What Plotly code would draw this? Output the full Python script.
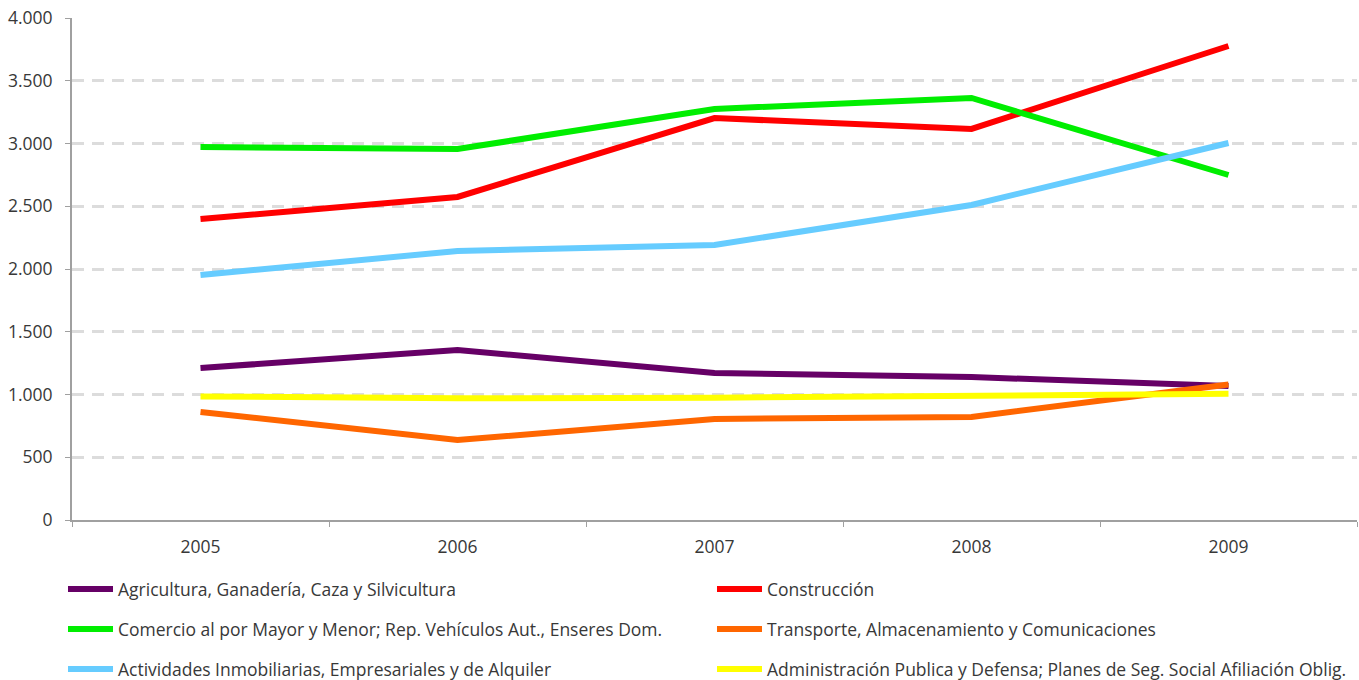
import plotly.graph_objects as go

years = ["2005", "2006", "2007", "2008", "2009"]

agricultura = [1211, 1355, 1171, 1139, 1068]
construccion = [2398, 2574, 3203, 3116, 3777]
comercio = [2972, 2956, 3275, 3363, 2749]
transporte = [861, 637, 805, 821, 1080]
actividades = [1952, 2143, 2191, 2510, 3004]
administracion = [985, 970, 975, 985, 1005]

series = [
    ("Agricultura, Ganadería, Caza y Silvicultura", agricultura, "#660066", "legend"),
    ("Construcción", construccion, "#ff0000", "legend"),
    ("Comercio al por Mayor y Menor; Rep. Vehículos Aut., Enseres Dom.", comercio, "#00ee00", "legend2"),
    ("Transporte, Almacenamiento y Comunicaciones", transporte, "#ff6600", "legend2"),
    ("Actividades Inmobiliarias, Empresariales y de Alquiler", actividades, "#66ccff", "legend3"),
    ("Administración Publica y Defensa; Planes de Seg. Social Afiliación Oblig.", administracion, "#ffff00", "legend3"),
]

fig = go.Figure()
for name, vals, color, lg in series:
    fig.add_trace(go.Scatter(
        x=years, y=vals, name=name, mode="lines",
        line=dict(color=color, width=6),
        legend=lg,
    ))

W, H = 1359, 680
ml, mr, mt, mb = 72, 2, 18, 160
pw = W - ml - mr
ph = H - mt - mb

def py(p):
    return (H - mb - p) / ph

FS = 17.5
font = dict(family="Open Sans, sans-serif", size=FS, color="#383838")

leg_common = dict(orientation="h", x=-9 / pw, xanchor="left", yanchor="middle",
                  entrywidth=589, entrywidthmode="pixels", itemwidth=45,
                  font=font, bgcolor="rgba(0,0,0,0)", borderwidth=0,
                  traceorder="normal")

fig.update_layout(
    width=W, height=H,
    margin=dict(l=ml, r=mr, t=mt, b=mb, autoexpand=False),
    paper_bgcolor="white", plot_bgcolor="white",
    font=font,
    showlegend=True,
    legend=dict(y=py(589), **leg_common),
    legend2=dict(y=py(629), **leg_common),
    legend3=dict(y=py(669), **leg_common),
    xaxis=dict(
        type="category", range=[-0.5, 4.5], showgrid=False, automargin=False,
        showline=True, linecolor="#a0a0a0", linewidth=2,
        ticks="outside", tickson="boundaries", ticklen=5, tickcolor="#a0a0a0",
        tickfont=font,
        ticklabelstandoff=10,
    ),
    yaxis=dict(
        range=[0, 4000], dtick=500, tickformat=",d", automargin=False,
        showgrid=True, gridcolor="#dcdcdc", griddash="12px,8px", gridwidth=3,
        showline=True, linecolor="#a0a0a0", linewidth=2,
        ticks="outside", ticklen=5, tickcolor="#a0a0a0",
        tickfont=font,
        ticklabelstandoff=9,
        zeroline=False,
    ),
    separators=",.",
)

fig.write_html("out.html", config={"displayModeBar": False},
               post_script="document.body.style.margin='0';")
